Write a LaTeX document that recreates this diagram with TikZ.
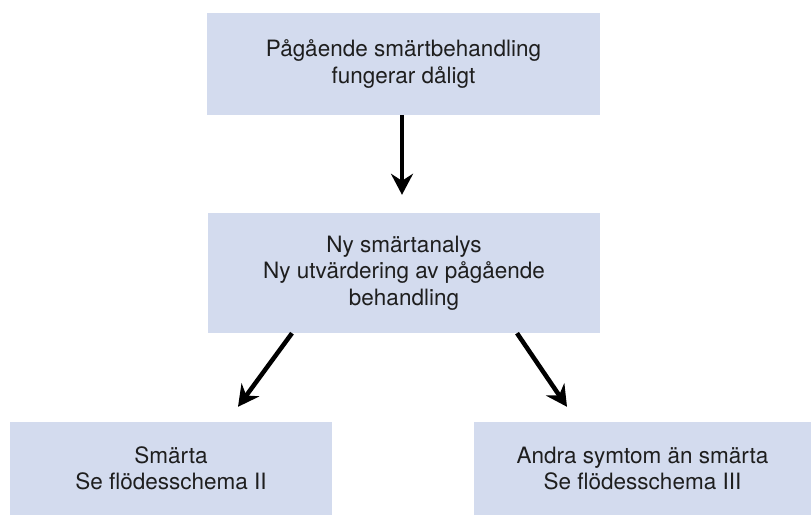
\documentclass[tikz,border=0pt]{standalone}
\usepackage{fontspec}
\setmainfont{TeX Gyre Heros}
\usetikzlibrary{arrows.meta}

\begin{document}
\begin{tikzpicture}[x=1bp,y=-1bp]
  % Colors
  \definecolor{boxblue}{RGB}{211,219,238}
  \definecolor{textgrey}{RGB}{30,30,30}

  % Styles
  \tikzstyle{box}=[fill=boxblue,inner sep=0pt,align=center,text=textgrey,
                   font=\fontsize{22.5bp}{26.5bp}\selectfont]
  \tikzstyle{flow}=[line width=4.5bp,-{Stealth[length=21bp,width=22bp,inset=7bp]}]

  \useasboundingbox (0,0) rectangle (811,515);

  % The boxes
  \node[box,minimum width=393bp,minimum height=102bp] (start) at (403.5,64)
    {Pågående smärtbehandling\\fungerar dåligt};
  \node[box,minimum width=392bp,minimum height=120bp] (analys) at (404,273)
    {Ny smärtanalys\\Ny utvärdering av pågående\\behandling};
  \node[box,minimum width=322bp,minimum height=93bp] (smarta) at (171,468.5)
    {Smärta\\Se flödesschema II};
  \node[box,minimum width=337bp,minimum height=93bp] (symtom) at (642.5,468.5)
    {Andra symtom än smärta\\Se flödesschema III};

  % The arrows
  \draw[flow] ([xshift=-1.5bp]start.south) -- ([xshift=-2bp,yshift=18bp]analys.north);
  \draw[flow] ([xshift=-112bp]analys.south) -- ([xshift=67bp,yshift=15bp]smarta.north);
  \draw[flow] ([xshift=113bp]analys.south) -- ([xshift=-75.5bp,yshift=15bp]symtom.north);
\end{tikzpicture}
\end{document}
